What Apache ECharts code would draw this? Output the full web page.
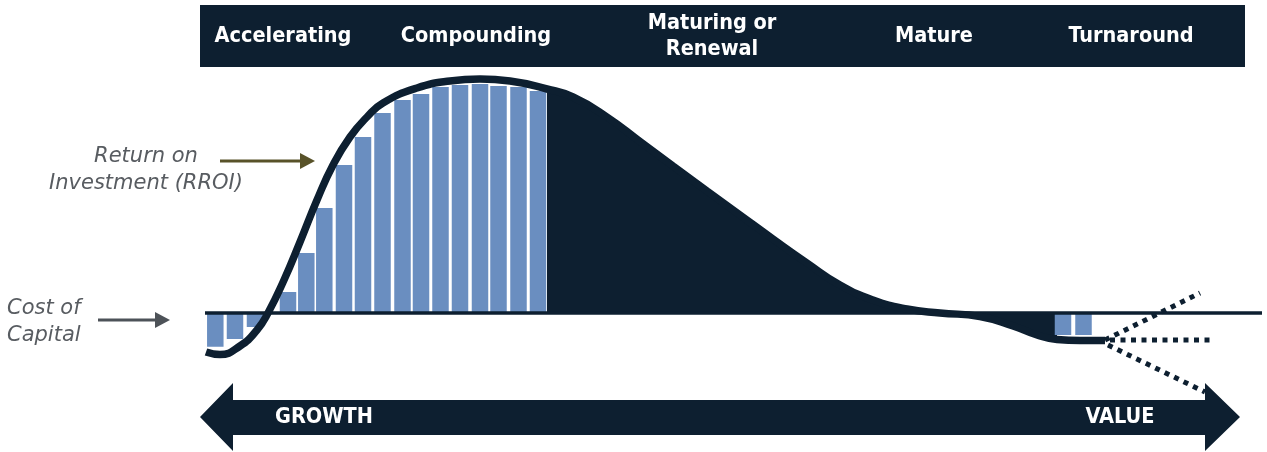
<!DOCTYPE html>
<html>
<head>
<meta charset="utf-8">
<script src="https://cdn.jsdelivr.net/npm/echarts@6/dist/echarts.min.js"></script>
<style>
html,body{margin:0;padding:0;background:#fff;}
#c{width:1267px;height:452px;}
</style>
</head>
<body>
<div id="c"></div>
<script>
// ---- data ----
const STAGES = ['Accelerating', 'Compounding', 'Maturing or\nRenewal', 'Mature', 'Turnaround'];
const AXIS_ENDS = ['GROWTH', 'VALUE'];
const ANNOT_ROI = 'Return on\nInvestment (RROI)';
const ANNOT_COST = 'Cost of\nCapital';

// RROI curve (x = time, y = return relative to cost of capital)
const CURVE_X = [0.1, 1.5, 3.5, 5.2, 6.3, 7.9, 9.5, 11.2, 12.8, 14.5, 16.2, 17.8, 21.2, 24.5, 27.5, 30.5, 34.2, 36.8, 40.2, 43.5, 46.8, 50.2, 53.5, 56.8, 60.2, 63.5, 66.8, 70.2, 73.5, 77.5, 80.8, 83.2, 85.2, 87.5, 90];
const CURVE_Y = [-15.6, -16.6, -13.2, -6.8, 0, 13.2, 28.4, 45.2, 59.2, 70.4, 78.4, 84, 90, 92.8, 93.6, 92.8, 89.6, 86.4, 78.4, 68.6, 58.8, 48.8, 39.2, 29.6, 20, 11.2, 5.2, 1.6, 0, -1.4, -5.2, -8.8, -10.6, -11, -11];
const FILL_FROM = 16, FILL_TO = 32; // index range of the shaded (mature) area

// bars
const BAR_X = [1.03, 3.0, 5.0, 8.3, 10.13, 11.93, 13.9, 15.8, 17.75, 19.75, 21.6, 23.55, 25.5, 27.5, 29.35, 31.35, 33.3, 85.8, 87.85];
const BAR_Y = [-13.5, -10.4, -5.6, 8.4, 24, 42, 59.2, 70.4, 80, 85.2, 87.6, 90.4, 91.2, 91.6, 90.8, 90.4, 88.8, -8.8, -8.8];

// turnaround scenarios (dotted)
const SCEN_UP = [[90, -10.8], [99.5, 8]];
const SCEN_FLAT = [[90.5, -10.8], [100.5, -10.8]];
const SCEN_DOWN = [[90.3, -12.8], [100, -31.6]];

// ---- build ----
const NAVY = '#0d1f30';
const BLUE = '#6a8ec0';
const curve = CURVE_X.map((x, i) => [x, CURVE_Y[i]]);
const fill = curve.slice(FILL_FROM, FILL_TO + 1);
const bars = BAR_X.map((x, i) => [x, BAR_Y[i]]);

const chart = echarts.init(document.getElementById('c'), null, {renderer: 'canvas'});
const HF = '"DejaVu Sans Condensed", "DejaVu Sans", sans-serif';
const stageX = [283, 476, 712, 934, 1131];

const graphic = [
  {type: 'rect', shape: {x: 200, y: 5, width: 1045, height: 62}, style: {fill: NAVY}, z: 1},
  {type: 'polygon', shape: {points: [[200, 417], [233, 383], [233, 400], [1205, 400], [1205, 383], [1240, 417], [1205, 451], [1205, 435], [233, 435], [233, 451]]}, style: {fill: NAVY}, z: 1},
  {type: 'text', x: 324, y: 417, style: {text: AXIS_ENDS[0], fill: '#fff', fontFamily: HF, fontWeight: 'bold', fontSize: 21.5, align: 'center', verticalAlign: 'middle'}, z: 2},
  {type: 'text', x: 1120, y: 417, style: {text: AXIS_ENDS[1], fill: '#fff', fontFamily: HF, fontWeight: 'bold', fontSize: 21.5, align: 'center', verticalAlign: 'middle'}, z: 2},
  {type: 'text', x: 146, y: 170, style: {text: ANNOT_ROI, fill: '#585c61', fontFamily: '"DejaVu Sans", sans-serif', fontStyle: 'italic', fontSize: 21, lineHeight: 27, align: 'center', verticalAlign: 'middle'}, z: 2},
  {type: 'text', x: 7, y: 322, style: {text: ANNOT_COST, fill: '#585c61', fontFamily: '"DejaVu Sans", sans-serif', fontStyle: 'italic', fontSize: 21, lineHeight: 27, align: 'left', verticalAlign: 'middle'}, z: 2},
  {type: 'line', shape: {x1: 220, y1: 161, x2: 302, y2: 161}, style: {stroke: '#585229', lineWidth: 3}, z: 2},
  {type: 'polygon', shape: {points: [[300, 153], [315, 161], [300, 169]]}, style: {fill: '#585229'}, z: 2},
  {type: 'line', shape: {x1: 98, y1: 320, x2: 157, y2: 320}, style: {stroke: '#4d5258', lineWidth: 3}, z: 2},
  {type: 'polygon', shape: {points: [[155, 312], [170, 320], [155, 328]]}, style: {fill: '#4d5258'}, z: 2}
];
STAGES.forEach((s, i) => {
  graphic.push({type: 'text', x: stageX[i], y: 36, style: {text: s, fill: '#fff', fontFamily: HF, fontWeight: 'bold', fontSize: 21.5, lineHeight: 26, align: 'center', verticalAlign: 'middle'}, z: 2});
});

chart.setOption({
  animation: false,
  grid: {left: 205, right: 5, top: 63, bottom: 39},
  xAxis: {type: 'value', min: 0, max: 105.7, show: false},
  yAxis: {type: 'value', min: -40, max: 100, show: false},
  graphic: graphic,
  series: [
    {type: 'line', data: fill, smooth: 0.5, symbol: 'none', lineStyle: {width: 0}, areaStyle: {color: NAVY, opacity: 1}, z: 1},
    {type: 'bar', data: bars, barWidth: 16.5, itemStyle: {color: BLUE}, z: 2},
    {type: 'line', data: [[0, 0], [105.7, 0]], symbol: 'none', lineStyle: {color: NAVY, width: 3.5}, z: 3},
    {type: 'line', data: curve, smooth: 0.5, symbol: 'none', lineStyle: {color: NAVY, width: 7.5, cap: 'butt'}, z: 4},
    {type: 'line', data: SCEN_UP, symbol: 'none', lineStyle: {color: NAVY, width: 5, type: [5, 5.5]}, z: 4},
    {type: 'line', data: SCEN_FLAT, symbol: 'none', lineStyle: {color: NAVY, width: 5, type: [5, 5.5]}, z: 4},
    {type: 'line', data: SCEN_DOWN, symbol: 'none', lineStyle: {color: NAVY, width: 5, type: [5, 5.5]}, z: 4}
  ]
});
</script>
</body>
</html>
